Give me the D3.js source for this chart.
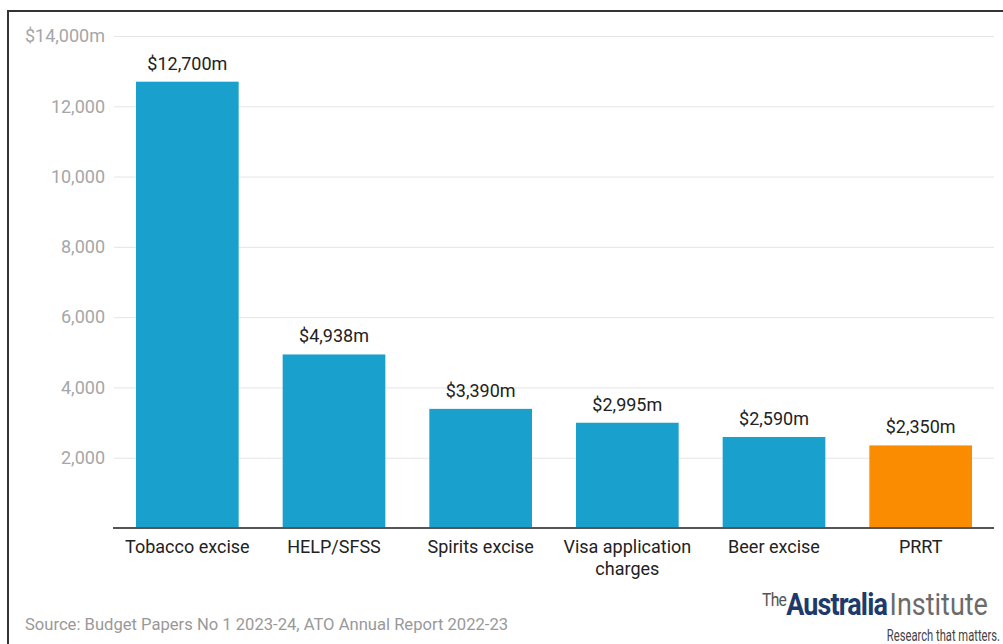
<!DOCTYPE html>
<html>
<head>
<meta charset="utf-8">
<script src="https://cdn.jsdelivr.net/npm/d3@7"></script>
<style>
  html, body { margin: 0; padding: 0; background: #fff; }
  svg { display: block; font-family: Roboto, "Noto Sans", sans-serif; }
</style>
</head>
<body>
<svg id="chart" width="1003" height="644"></svg>
<script>
// Revenue sources (A$ millions)
const categories = ["Tobacco excise", "HELP/SFSS", "Spirits excise", "Visa application charges", "Beer excise", "PRRT"];
const revenue = [12700, 4938, 3390, 2995, 2590, 2350];
const highlight = ["PRRT"];
const yTicks = [2000, 4000, 6000, 8000, 10000, 12000, 14000];
const sourceNote = "Source: Budget Papers No 1 2023-24, ATO Annual Report 2022-23";

const svg = d3.select("#chart");
const W = 1003, H = 644;
const margin = { top: 36, right: 9, bottom: 116, left: 114 };
const innerW = W - margin.left - margin.right;
const innerH = H - margin.top - margin.bottom;

// Outer frame
svg.append("rect")
  .attr("x", 8).attr("y", 11)
  .attr("width", W + 10).attr("height", H + 10)
  .attr("fill", "none").attr("stroke", "#333").attr("stroke-width", 2);

const g = svg.append("g").attr("transform", `translate(${margin.left},${margin.top})`);

const x = d3.scaleBand().domain(categories).range([0, innerW]).paddingInner(0.3).paddingOuter(0.15);
const y = d3.scaleLinear().domain([0, 14000]).range([innerH, 0]);

// Gridlines and y tick labels
const yAxis = d3.axisLeft(y).tickValues(yTicks).tickSize(-innerW).tickPadding(9)
  .tickFormat(d => d === 14000 ? "$" + d3.format(",")(d) + "m" : d3.format(",")(d));
const ya = g.append("g").call(yAxis);
ya.select(".domain").remove();
ya.selectAll(".tick line").attr("stroke", "#e6e6e6").attr("stroke-width", 1);
ya.selectAll(".tick text").attr("fill", "#a6a6a6").attr("font-size", 18).attr("font-family", "Roboto");

// Bars
g.selectAll("rect.bar").data(categories).join("rect")
  .attr("class", "bar")
  .attr("x", d => x(d))
  .attr("width", x.bandwidth())
  .attr("y", (d, i) => y(revenue[i]))
  .attr("height", (d, i) => innerH - y(revenue[i]))
  .attr("fill", d => highlight.includes(d) ? "#f98c00" : "#1aa0cc");

// Value labels
g.selectAll("text.val").data(categories).join("text")
  .attr("class", "val")
  .attr("x", d => x(d) + x.bandwidth() / 2)
  .attr("y", (d, i) => y(revenue[i]) - 12)
  .attr("text-anchor", "middle")
  .attr("fill", "#222")
  .attr("font-size", 18)
  .text((d, i) => "$" + d3.format(",")(revenue[i]) + "m");

// Baseline and category labels
const xAxis = d3.axisBottom(x).tickSize(0).tickPadding(12);
const xa = g.append("g").attr("transform", `translate(0,${innerH})`).call(xAxis);
xa.select(".domain").attr("stroke", "#555").attr("stroke-width", 2).attr("d", `M-1,0H${innerW}`);
xa.selectAll(".tick text").attr("fill", "#222").attr("font-size", 18).attr("font-family", "Roboto")
  .each(function(d) {
    const t = d3.select(this);
    if (d === "Visa application charges") {
      t.text(null);
      t.append("tspan").attr("x", 0).attr("dy", "0.71em").text("Visa application");
      t.append("tspan").attr("x", 0).attr("dy", "1.22em").text("charges");
      t.attr("dy", null);
    }
  });

// Source note
svg.append("text")
  .attr("x", 25).attr("y", 630)
  .attr("fill", "#999").attr("font-size", 16.6)
  .text(sourceNote);

// Logo wordmark
const logo = svg.append("g").attr("transform", "translate(762,615)");
const word = logo.append("text").attr("transform", "scale(0.87,1)").attr("font-family", "Roboto");
word.append("tspan").attr("font-size", 18).attr("fill", "#555").attr("dy", -9).attr("letter-spacing", -0.8).text("The");
word.append("tspan").attr("font-size", 31).attr("font-weight", 700).attr("fill", "#1d3a6b").attr("dy", 9).attr("letter-spacing", -1).text("Australia");
word.append("tspan").attr("font-size", 31).attr("font-weight", 400).attr("fill", "#6b6b6b").attr("dx", 3).attr("letter-spacing", 0).text("Institute");
logo.append("text")
  .attr("transform", "translate(238,26) scale(0.7,1)")
  .attr("text-anchor", "end")
  .attr("font-size", 16).attr("fill", "#444")
  .text("Research that matters.");
</script>
</body>
</html>
